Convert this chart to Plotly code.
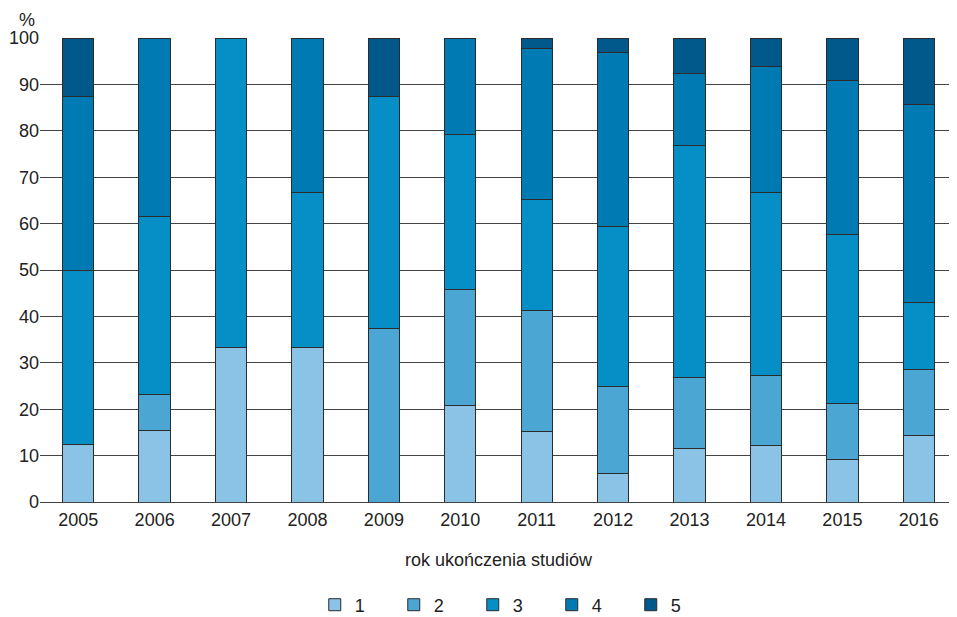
import plotly.graph_objects as go

years = ["2005", "2006", "2007", "2008", "2009", "2010",
         "2011", "2012", "2013", "2014", "2015", "2016"]

grade_1 = [12.5, 15.4, 33.3, 33.3, 0, 20.8, 15.2, 6.25, 11.5, 12.1, 9.1, 14.3]
grade_2 = [0, 7.7, 0, 0, 37.5, 25.0, 26.1, 18.75, 15.4, 15.2, 12.1, 14.3]
grade_3 = [37.5, 38.5, 66.7, 33.3, 50.0, 33.3, 23.9, 34.4, 50.0, 39.4, 36.4, 14.3]
grade_4 = [37.5, 38.4, 0, 33.4, 0, 20.9, 32.6, 37.5, 15.4, 27.2, 33.3, 42.8]
grade_5 = [12.5, 0, 0, 0, 12.5, 0, 2.2, 3.1, 7.7, 6.1, 9.1, 14.3]

series = [("1", grade_1, "#8ac3e6"),
          ("2", grade_2, "#4ca6d4"),
          ("3", grade_3, "#058fc6"),
          ("4", grade_4, "#007ab3"),
          ("5", grade_5, "#00588b")]

fig = go.Figure()
for name, vals, color in series:
    fig.add_trace(go.Bar(
        x=years, y=vals, name=name,
        marker=dict(color=color, line=dict(color="#2b2b2b", width=1)),
    ))

# page body has an 8px margin, so the figure is shifted by that amount
fig.update_layout(
    barmode="stack",
    bargap=0.59,
    width=949, height=609,
    margin=dict(l=32, r=0, t=30, b=115, autoexpand=False),
    plot_bgcolor="white",
    paper_bgcolor="white",
    font=dict(family="Liberation Sans, Arial", size=18, color="#222"),
    legend=dict(orientation="h", x=0.515, xanchor="center", y=-0.222, yanchor="middle",
                traceorder="normal", font=dict(size=18), entrywidth=34),
    annotations=[dict(text="%", x=-0.014, y=1.0, yshift=30, xref="paper", yref="paper",
                      xanchor="center", yanchor="top",
                      showarrow=False, font=dict(size=18))],
)

fig.update_xaxes(
    range=[-0.5, 11.5], automargin=False,
    title=dict(text="rok ukończenia studiów", standoff=24, font=dict(size=18)),
    showline=False, ticks="", tickfont=dict(size=18), ticklabelstandoff=5,
)
fig.update_yaxes(
    range=[0, 100], dtick=10, automargin=False,
    showgrid=True, gridcolor="#444", gridwidth=1,
    zeroline=True, zerolinecolor="#444", zerolinewidth=1,
    ticks="", tickfont=dict(size=18),
)

fig.write_html("out.html")
